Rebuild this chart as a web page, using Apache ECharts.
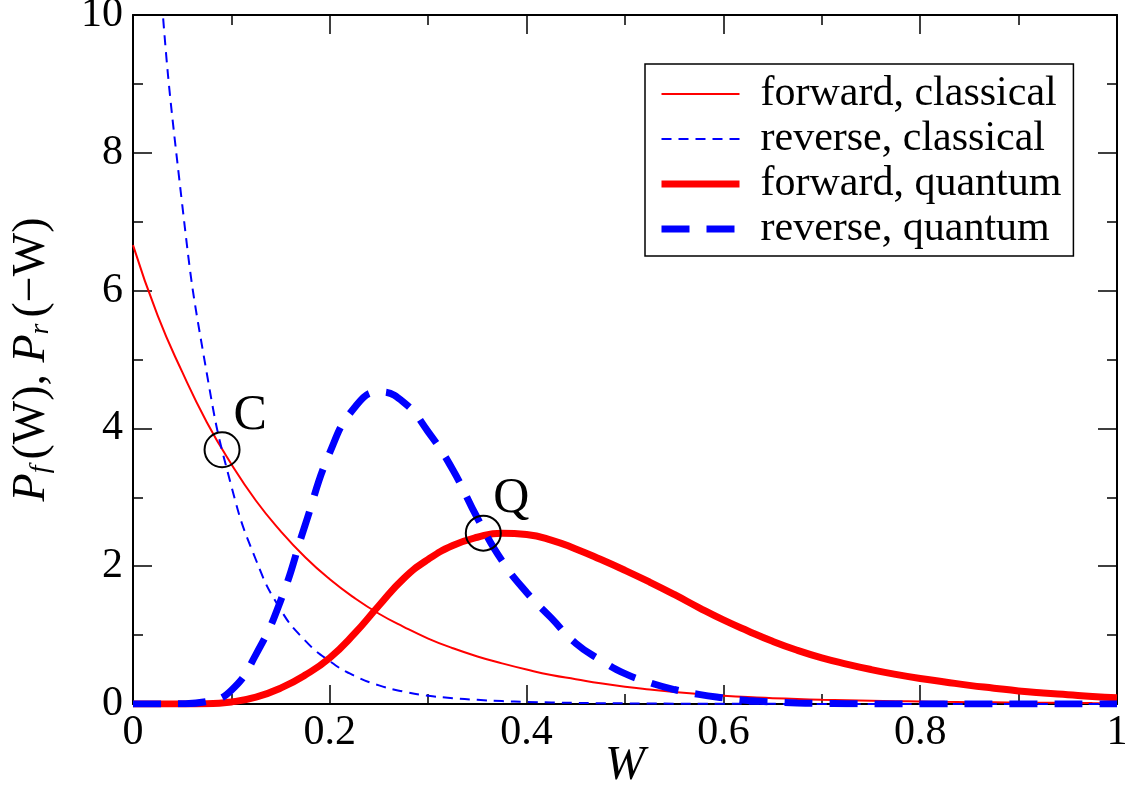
<!DOCTYPE html>
<html>
<head>
<meta charset="utf-8">
<script src="https://cdn.jsdelivr.net/npm/echarts@6/dist/echarts.min.js"></script>
<style>
html,body{margin:0;padding:0;background:#fff;}
#chart{width:1130px;height:790px;}
</style>
</head>
<body>
<div id="chart"></div>
<script>
// ---- data ----
const seriesNames = ['forward, classical', 'reverse, classical', 'forward, quantum', 'reverse, quantum'];

const wGrid = [0, 0.025, 0.05, 0.075, 0.1, 0.125, 0.15, 0.175, 0.2, 0.225, 0.25, 0.275, 0.3, 0.325, 0.35, 0.375, 0.4, 0.425, 0.45, 0.475, 0.5,
               0.525, 0.55, 0.575, 0.6, 0.625, 0.65, 0.675, 0.7, 0.725, 0.75, 0.775, 0.8, 0.825, 0.85, 0.875, 0.9, 0.925, 0.95, 0.975, 1.0];

const pForwardClassical = [6.66, 5.64, 4.82, 4.09, 3.48, 2.95, 2.51, 2.13, 1.81, 1.54, 1.31, 1.12, 0.95, 0.81, 0.69, 0.59, 0.5, 0.42, 0.36, 0.3, 0.25,
                           0.21, 0.175, 0.145, 0.12, 0.1, 0.085, 0.072, 0.062, 0.054, 0.047, 0.041, 0.036, 0.031, 0.027, 0.024, 0.021, 0.018, 0.016, 0.014, 0.012];

const pReverseClassical = [16.6, 11.0, 7.25, 4.8, 3.16, 2.09, 1.37, 0.92, 0.62, 0.41, 0.27, 0.18, 0.12, 0.085, 0.06, 0.042, 0.03, 0.022, 0.016, 0.012, 0.009,
                           0.007, 0.005, 0.004, 0.003, 0.002, 0.002, 0.001, 0.001, 0, 0, 0, 0, 0, 0, 0, 0, 0, 0, 0, 0];

const pForwardQuantum = [0, 0, 0, 0.003, 0.03, 0.1, 0.23, 0.42, 0.67, 1.02, 1.43, 1.82, 2.1, 2.3, 2.42, 2.48, 2.46, 2.38, 2.25, 2.1, 1.94,
                         1.77, 1.59, 1.4, 1.22, 1.06, 0.91, 0.78, 0.67, 0.58, 0.5, 0.43, 0.37, 0.32, 0.27, 0.23, 0.19, 0.16, 0.135, 0.11, 0.09];

const pReverseQuantum = [0, 0, 0.003, 0.035, 0.2, 0.72, 1.5, 2.6, 3.65, 4.3, 4.53, 4.38, 3.95, 3.4, 2.7, 2.08, 1.62, 1.25, 0.88, 0.64, 0.44,
                         0.31, 0.21, 0.14, 0.09, 0.05, 0.03, 0.015, 0.008, 0.004, 0.002, 0, 0, 0, 0, 0, 0, 0, 0, 0, 0];

const markerNames = ['C', 'Q'];
const markerW = [0.0905, 0.356];
const markerP = [3.69, 2.48];

const xTickInterval = 0.2;
const yTickInterval = 2;

// ---- chart ----
const FONT = "'Liberation Serif', 'Times New Roman', serif";
const zip = (xs, ys) => xs.map((x, i) => [x, ys[i]]);

const chart = echarts.init(document.getElementById('chart'), null, {renderer: 'canvas'});

const axisLineStyle = {color: '#000', width: 2};
const tickStyle = {color: '#000', width: 1.5};

function xAxisDef(pos, showLabel) {
  return {
    type: 'value', position: pos, min: 0, max: 1, interval: xTickInterval,
    axisLine: {show: true, onZero: false, lineStyle: axisLineStyle},
    axisTick: {show: true, inside: true, length: 19, lineStyle: tickStyle},
    minorTick: {show: true, splitNumber: 2, length: 10, lineStyle: tickStyle},
    splitLine: {show: false},
    axisLabel: {show: showLabel, fontFamily: FONT, fontSize: 42, color: '#000', margin: 8,
                showMinLabel: true, showMaxLabel: true},
    name: showLabel ? 'W' : '',
    nameLocation: 'middle', nameGap: 38, nameMoveOverlap: false,
    nameTextStyle: {fontFamily: FONT, fontSize: 48, fontStyle: 'italic', color: '#000'}
  };
}
function yAxisDef(pos, showLabel) {
  return {
    type: 'value', position: pos, min: 0, max: 10, interval: yTickInterval,
    axisLine: {show: true, onZero: false, lineStyle: axisLineStyle},
    axisTick: {show: true, inside: true, length: 19, lineStyle: tickStyle},
    minorTick: {show: true, splitNumber: 2, length: 10, lineStyle: tickStyle},
    splitLine: {show: false},
    axisLabel: {show: showLabel, fontFamily: FONT, fontSize: 42, color: '#000', margin: 10,
                showMinLabel: true, showMaxLabel: true},
    name: showLabel ? '{i|P}{s|f}{n|(W), }{i|P}{s|r}{n|(\u2212W)}' : '',
    nameLocation: 'middle', nameGap: 78, nameMoveOverlap: false,
    nameTextStyle: {
      fontFamily: FONT, fontSize: 46, color: '#000',
      rich: {
        i: {fontFamily: FONT, fontSize: 46, fontStyle: 'italic', color: '#000', lineHeight: 46},
        n: {fontFamily: FONT, fontSize: 46, color: '#000', lineHeight: 46},
        s: {fontFamily: FONT, fontSize: 28, fontStyle: 'italic', color: '#000', lineHeight: 20,
            verticalAlign: 'bottom', padding: [0, 6, 0, 0]}
      }
    }
  };
}

const option = {
  animation: false,
  backgroundColor: '#fff',
  grid: {left: 133, right: 13, top: 15, bottom: 86, containLabel: false, outerBoundsMode: 'none'},
  xAxis: [xAxisDef('bottom', true), xAxisDef('top', false)],
  yAxis: [yAxisDef('left', true), yAxisDef('right', false)],
  legend: {
    orient: 'vertical', left: 645, top: 64,
    itemWidth: 78, itemHeight: 14, itemGap: 3,
    padding: [9, 12, 6, 13],
    backgroundColor: '#fff', borderColor: '#000', borderWidth: 1.5, borderRadius: 0,
    itemStyle: {opacity: 0},
    lineStyle: {width: 'inherit', type: 'inherit', color: 'inherit'},
    textStyle: {fontFamily: FONT, fontSize: 42, color: '#000', lineHeight: 42, padding: [0, 0, 0, 16]},
    data: seriesNames
  },
  series: [
    {name: seriesNames[0], type: 'line', data: zip(wGrid, pForwardClassical),
     symbol: 'none', smooth: true, lineStyle: {color: '#ff0000', width: 2}, itemStyle: {color: '#ff0000'}},
    {name: seriesNames[1], type: 'line', data: zip(wGrid, pReverseClassical),
     symbol: 'none', smooth: true, lineStyle: {color: '#0000ff', width: 2, type: [10, 7]}, itemStyle: {color: '#0000ff'}},
    {name: seriesNames[2], type: 'line', data: zip(wGrid, pForwardQuantum),
     symbol: 'none', smooth: true, lineStyle: {color: '#ff0000', width: 7}, itemStyle: {color: '#ff0000'}},
    {name: seriesNames[3], type: 'line', data: zip(wGrid, pReverseQuantum),
     symbol: 'none', smooth: true, lineStyle: {color: '#0000ff', width: 7, type: [28, 17]}, itemStyle: {color: '#0000ff'}},
    {name: 'points', type: 'scatter', z: 5,
     data: markerNames.map((n, i) => ({name: n, value: [markerW[i], markerP[i]]})),
     symbol: 'circle', symbolSize: 35,
     itemStyle: {color: 'rgba(0,0,0,0)', borderColor: '#000', borderWidth: 2, opacity: 1},
     label: {show: true, position: 'inside', offset: [28, -34], formatter: '{b}',
             fontFamily: FONT, fontSize: 50, color: '#000'},
     emphasis: {disabled: true}}
  ]
};
chart.setOption(option);
</script>
</body>
</html>
